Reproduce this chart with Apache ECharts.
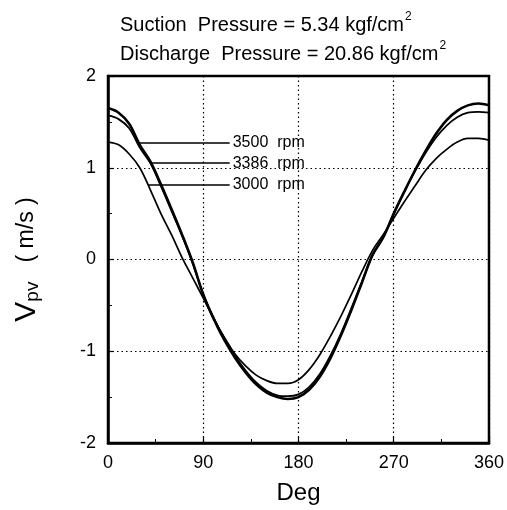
<!DOCTYPE html>
<html>
<head>
<meta charset="utf-8">
<script src="https://cdn.jsdelivr.net/npm/echarts@6/dist/echarts.min.js"></script>
<style>html,body{margin:0;padding:0;background:#fff}#c{width:507px;height:510px}</style>
</head>
<body>
<div id="c"></div>
<script>
// ---- data ----
const degrees = [0,10,20,30,40,50,60,70,80,90,100,110,120,130,140,150,160,170,180,190,200,210,220,230,240,250,260,270,280,290,300,310,320,330,340,350,360];
const v3500 = [1.65,1.60,1.48,1.25,1.07,0.82,0.55,0.27,-0.03,-0.38,-0.65,-0.88,-1.07,-1.23,-1.36,-1.45,-1.50,-1.52,-1.50,-1.42,-1.28,-1.08,-0.83,-0.55,-0.25,0.05,0.24,0.50,0.74,0.97,1.18,1.37,1.52,1.62,1.68,1.70,1.68];
const v3386 = [1.57,1.53,1.43,1.22,1.05,0.80,0.53,0.26,-0.04,-0.38,-0.64,-0.86,-1.05,-1.21,-1.34,-1.43,-1.48,-1.49,-1.47,-1.39,-1.25,-1.05,-0.81,-0.53,-0.24,0.05,0.24,0.50,0.74,0.96,1.16,1.33,1.46,1.55,1.60,1.61,1.60];
const v3000 = [1.28,1.25,1.15,1.00,0.76,0.50,0.27,0.02,-0.20,-0.42,-0.65,-0.85,-1.03,-1.16,-1.26,-1.32,-1.35,-1.35,-1.31,-1.20,-1.04,-0.84,-0.62,-0.38,-0.13,0.10,0.27,0.45,0.63,0.80,0.97,1.10,1.20,1.28,1.32,1.32,1.30];
const seriesNames = ['3500  rpm','3386  rpm','3000  rpm'];
const labelX = 115;               // degree where annotation lines end (text side)
const labelY = [1.27, 1.05, 0.82];// annotation heights
const arrowTipX = [29, 40, 38];   // degree where arrows touch curves
const xTicks = [0,90,180,270,360];
const yTicks = [-2,-1,0,1,2];
const titleLines = ['Suction  Pressure = 5.34 kgf/cm', 'Discharge  Pressure = 20.86 kgf/cm'];

const FONT = '"Liberation Sans", Arial, Helvetica, sans-serif';
const chart = echarts.init(document.getElementById('c'));
const allVals = [v3500, v3386, v3000];
const widths = [2.6, 1.8, 1.7];

const series = allVals.map((vals, i) => ({
  name: seriesNames[i],
  type: 'line',
  data: degrees.map((d, j) => [d, vals[j]]),
  smooth: 0.35,
  showSymbol: false,
  lineStyle: { color: '#000', width: widths[i] },
  silent: true,
  markLine: {
    silent: true,
    symbol: ['none', 'arrow'],
    symbolSize: [0, 8],
    lineStyle: { color: '#000', width: 1.5, type: 'solid' },
    label: {
      show: true, position: 'start', formatter: seriesNames[i],
      color: '#000', fontFamily: FONT, fontSize: 16, distance: 3
    },
    data: [[{ coord: [labelX, labelY[i]] }, { coord: [arrowTipX[i], labelY[i]] }]]
  }
}));

chart.setOption({
  animation: false,
  backgroundColor: '#fff',
  title: {
    left: 115, top: 6, itemGap: 0,
    text: '{t|' + titleLines[0] + '}{s|2}\n{t|' + titleLines[1] + '}{s|2}',
    textStyle: {
      rich: {
        t: { fontFamily: FONT, fontSize: 20, fontWeight: 'normal', color: '#000', lineHeight: 29 },
        s: { fontFamily: FONT, fontSize: 12, fontWeight: 'normal', color: '#000', verticalAlign: 'top', lineHeight: 29, padding: [0,0,16,1] }
      }
    }
  },
  grid: { left: 108, right: 18, top: 76, bottom: 66, show: true, borderColor: '#000', borderWidth: 2.5 },
  xAxis: {
    type: 'value', min: 0, max: 360, interval: 90,
    name: 'Deg', nameLocation: 'middle', nameGap: 38,
    nameTextStyle: { fontFamily: FONT, fontSize: 24, color: '#000' },
    axisLine: { show: true, onZero: false, lineStyle: { color: '#000', width: 2.5 } },
    axisTick: { show: true, inside: true, length: 6, lineStyle: { color: '#000', width: 1.2 } },
    minorTick: { show: true, splitNumber: 2, length: 4, lineStyle: { color: '#000' } },
    axisLabel: { fontFamily: FONT, fontSize: 18, color: '#000', margin: 11, customValues: xTicks },
    splitLine: { show: true, lineStyle: { color: '#000', type: [1.5, 3], width: 1.2 } }
  },
  yAxis: {
    type: 'value', min: -2, max: 2, interval: 1,
    name: '{v|V}{p|pv}{u|   ( m/s )}', nameLocation: 'middle', nameGap: 66, nameRotate: 90,
    nameTextStyle: {
      rich: {
        v: { fontFamily: FONT, fontSize: 30, color: '#000' },
        p: { fontFamily: FONT, fontSize: 19, color: '#000', verticalAlign: 'bottom', padding: [12,0,0,0] },
        u: { fontFamily: FONT, fontSize: 23, color: '#000' }
      }
    },
    axisLine: { show: true, onZero: false, lineStyle: { color: '#000', width: 2.5 } },
    axisTick: { show: true, inside: true, length: 6, lineStyle: { color: '#000', width: 1.2 } },
    minorTick: { show: true, splitNumber: 2, length: 4, lineStyle: { color: '#000' } },
    axisLabel: { fontFamily: FONT, fontSize: 18, color: '#000', margin: 12, customValues: yTicks },
    splitLine: { show: true, lineStyle: { color: '#000', type: [1.5, 3], width: 1.2 } }
  },
  series: series
});
</script>
</body>
</html>
